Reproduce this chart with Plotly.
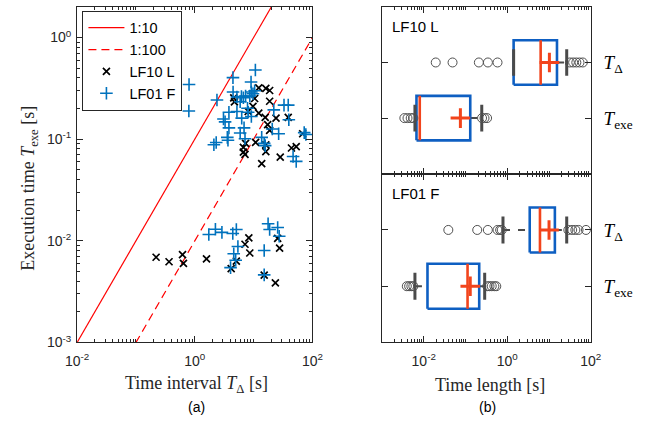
import plotly.graph_objects as go

W, H = 651, 428

# ---------------- data: left panel (scatter) ----------------
lf10_tdelta = [12.2, 16.1, 18.7, 4.59, 4.71, 10.4, 18.7, 8.07, 12.2, 15.7, 24.0, 38.7, 17.3, 18.7,
               68.1, 7.29, 6.69, 6.69, 7.13, 16.1, 16.1, 43.9, 52.9, 28.3, 13.7, 9.74, 10.8,
               0.22, 0.365, 0.618, 0.641, 1.58, 8.28, 7.13, 8.6, 25.6, 27.6, 23.4, 5.08, 4.15, 15.1]
lf10_texe = [0.32, 0.316, 0.301, 0.255, 0.233, 0.251, 0.236, 0.187, 0.18, 0.164, 0.161, 0.164, 0.139, 0.122,
             0.113, 0.0908, 0.083, 0.0744, 0.0707, 0.0878, 0.0755, 0.0818, 0.0844, 0.0666, 0.0574, 0.21, 0.0928,
             0.00689, 0.00622, 0.0073, 0.00599, 0.00664, 0.0107, 0.00925, 0.00759, 0.01057, 0.00848, 0.00385,
             0.0063, 0.00533, 0.00459]

lf01_tdelta = [0.798, 0.792, 2.38, 4.45, 10.7, 9.03, 4.47, 6.69, 7.29, 9.14, 9.74, 8.6, 5.9, 3.8, 5.2, 8.07,
               9.14, 3.07, 3.27, 3.8, 6.87, 5.9, 7.13, 3.57, 3.66, 2.31, 2.11, 13.7, 15.1, 15.7, 20.7, 22.0,
               32.8, 38.7, 39.6, 26.6, 72.3, 77.1, 46.8, 52.9, 7.87, 6.27, 5.2, 6.2, 10.4,
               1.73, 2.24, 2.89, 4.42, 5.08, 17.6, 18.7, 25.6, 27.2, 5.4, 4.59, 4.95, 4.05, 15.1, 15.1]
lf01_texe = [0.345, 0.189, 0.243, 0.403, 0.479, 0.365, 0.291, 0.255, 0.265, 0.291, 0.28, 0.266, 0.233, 0.184,
             0.187, 0.184, 0.167, 0.158, 0.148, 0.129, 0.129, 0.115, 0.101, 0.104, 0.0976, 0.0928, 0.0882,
             0.104, 0.0908, 0.0863, 0.126, 0.194, 0.216, 0.216, 0.155, 0.113, 0.116, 0.111, 0.0676, 0.0605,
             0.201, 0.161, 0.26, 0.262, 0.299,
             0.01154, 0.013, 0.0121, 0.0118, 0.0129, 0.0147, 0.0129, 0.0135, 0.0111, 0.00878, 0.00747,
             0.00644, 0.00545, 0.00803, 0.00462]

ratio_labels = ["1:10", "1:100"]
ratio_values = [10, 100]
line_x_ends = [0.01, 100]

# ---------------- data: right panel (box plots) ----------------
row_labels = ["<i>T</i><sub>exe</sub>", "<i>T</i><sub>Δ</sub>"]
panel_labels = ["LF10 L", "LF01 F"]
# [lower whisker, Q1, median, Q3, upper whisker]
lf10_texe_summary = [0.00616, 0.00671, 0.00804, 0.130, 0.245]
lf10_texe_mean = 0.0755
lf10_texe_outliers = [0.00344, 0.00409, 0.00488, 0.00564, 0.249, 0.285, 0.329]
lf10_tdelta_summary = [1.42, 1.42, 6.3, 15.5, 26.5]
lf10_tdelta_mean = 10.2
lf10_tdelta_outliers = [0.0194, 0.049, 0.209, 0.344, 0.585, 31.5, 37.8, 45.0, 53.7, 64.3]
lf01_texe_summary = [0.00616, 0.0123, 0.112, 0.213, 0.288]
lf01_texe_mean = 0.130
lf01_texe_outliers = [0.00394, 0.00448, 0.00506, 0.00564, 0.333, 0.376, 0.425, 0.491, 0.546]
lf01_tdelta_summary = [0.79, 3.45, 6.07, 13.8, 26.5]
lf01_tdelta_mean = 10.0
lf01_tdelta_outliers = [0.0388, 0.191, 0.343, 0.585, 0.675, 0.738, 29.0, 35.8, 42.7, 50.9, 76.7]

# ---------------- styles ----------------
AX = "#262626"
BLUE = "#0072BD"
BOX_BLUE = "#0E5FC2"
MED_RED = "#F2441C"
WHISK = "#4A4A4A"
SANS = "Liberation Sans, Arial, sans-serif"
SERIF = "Liberation Serif, Times New Roman, serif"
ratio_styles = [dict(color="#FF0000", width=1.2, dash="solid"),
                dict(color="#FF0000", width=1.2, dash="8px,5px")]

fig = go.Figure()

for lab, r, st in zip(ratio_labels, ratio_values, ratio_styles):
    fig.add_trace(go.Scatter(x=line_x_ends, y=[v / r for v in line_x_ends], mode="lines",
                             name=lab, line=st, xaxis="x", yaxis="y"))

fig.add_trace(go.Scatter(x=lf10_tdelta, y=lf10_texe, mode="markers", name="LF10 L",
                         marker=dict(symbol="x-thin", size=7, color="black",
                                     line=dict(width=1.7, color="black")),
                         xaxis="x", yaxis="y"))
fig.add_trace(go.Scatter(x=lf01_tdelta, y=lf01_texe, mode="markers", name="LF01 F",
                         marker=dict(symbol="cross-thin", size=9, color=BLUE,
                                     line=dict(width=1.6, color=BLUE)),
                         xaxis="x", yaxis="y"))

HB = 0.4   # box half height
HC = 0.24  # cap half height


def add_box(summary, mean, outliers, ypos, xa, ya):
    lw, q1, med, q3, uw = summary
    kw = dict(xaxis=xa, yaxis=ya, showlegend=False, hoverinfo="skip")
    for a, b in ((lw, q1), (q3, uw)):
        if a != b:
            fig.add_trace(go.Scatter(x=[a, b], y=[ypos, ypos], mode="lines",
                                     line=dict(color=WHISK, width=2, dash="7px,8px"), **kw))
    fig.add_trace(go.Scatter(x=[q1, q3, q3, q1, q1],
                             y=[ypos - HB, ypos - HB, ypos + HB, ypos + HB, ypos - HB],
                             mode="lines", line=dict(color=BOX_BLUE, width=2.6), **kw))
    for c in (lw, uw):
        fig.add_trace(go.Scatter(x=[c, c], y=[ypos - HC, ypos + HC], mode="lines",
                                 line=dict(color=WHISK, width=3), **kw))
    fig.add_trace(go.Scatter(x=[med, med], y=[ypos - HB, ypos + HB], mode="lines",
                             line=dict(color=MED_RED, width=2.6), **kw))
    fig.add_trace(go.Scatter(x=outliers, y=[ypos] * len(outliers), mode="markers",
                             marker=dict(symbol="circle-open", size=9, color="#505050",
                                         line=dict(width=1)), **kw))
    fig.add_trace(go.Scatter(x=[mean], y=[ypos], mode="markers",
                             marker=dict(symbol="cross-thin", size=14, color=MED_RED,
                                         line=dict(width=3, color=MED_RED)), **kw))


add_box(lf10_texe_summary, lf10_texe_mean, lf10_texe_outliers, 1, "x2", "y2")
add_box(lf10_tdelta_summary, lf10_tdelta_mean, lf10_tdelta_outliers, 2, "x2", "y2")
add_box(lf01_texe_summary, lf01_texe_mean, lf01_texe_outliers, 1, "x3", "y3")
add_box(lf01_tdelta_summary, lf01_tdelta_mean, lf01_tdelta_outliers, 2, "x3", "y3")


def minor_vals(lo, hi, extra_decades=()):
    out = [10.0 ** e for e in extra_decades]
    for k in range(lo, hi + 1):
        for m in range(2, 10):
            out.append(m * 10.0 ** k)
    return out


def log_ticks(exps):
    vals = [10.0 ** e for e in exps]
    text = [f"10<sup>{e}</sup>" for e in exps]
    return vals, text


common = dict(showline=True, linecolor=AX, linewidth=1, mirror="allticks", ticks="inside",
              ticklen=6, tickcolor=AX, tickwidth=1, showgrid=False, zeroline=False,
              tickfont=dict(family=SANS, size=14, color=AX))

xv, xt = log_ticks([-2, 0, 2])
yv, yt = log_ticks([-3, -2, -1, 0])

minor_common = dict(ticks="inside", ticklen=3, tickcolor=AX, tickwidth=1, tickmode="array")
serif_tick = dict(family=SERIF, size=19, color="black")

x1 = [67.5 / W, 311.5 / W]
xr = [383.5 / W, 600 / W]
fig.update_layout(
    width=W, height=H, margin=dict(l=0, r=0, t=0, b=0),
    paper_bgcolor="white", plot_bgcolor="white",
    xaxis=dict(type="log", domain=x1, range=[-2, 2], anchor="y", tickmode="array",
               tickvals=xv, ticktext=xt, ticklabelstandoff=6,
               minor=dict(tickvals=minor_vals(-2, 1, (-1, 1)), **minor_common), **common),
    yaxis=dict(type="log", domain=[79 / H, 421 / H], range=[-3, 0.301], anchor="x",
               tickmode="array", tickvals=yv, ticktext=yt, ticklabelstandoff=2,
               minor=dict(tickvals=[v for v in minor_vals(-3, 0) if v <= 2], **minor_common),
               **common),
    xaxis2=dict(type="log", domain=xr, range=[-3, 2], anchor="y2", tickmode="array",
                tickvals=xv, ticktext=xt, showticklabels=False,
                minor=dict(tickvals=minor_vals(-3, 1, (-3, -1, 1)), **minor_common), **common),
    yaxis2=dict(domain=[251 / H, 421 / H], range=[0, 3], anchor="x2", side="right",
                tickmode="array", tickvals=[1, 2], ticktext=row_labels, ticklabelstandoff=8,
                **{**common, "tickfont": serif_tick}),
    xaxis3=dict(type="log", domain=xr, range=[-3, 2], anchor="y3", tickmode="array",
                tickvals=xv, ticktext=xt, ticklabelstandoff=6,
                minor=dict(tickvals=minor_vals(-3, 1, (-3, -1, 1)), **minor_common), **common),
    yaxis3=dict(domain=[79 / H, 251 / H], range=[0, 3], anchor="x3", side="right",
                tickmode="array", tickvals=[1, 2], ticktext=row_labels, ticklabelstandoff=8,
                **{**common, "tickfont": serif_tick}),
    legend=dict(x=73 / W, y=1 - 11 / H, xanchor="left", yanchor="top",
                bgcolor="white", bordercolor=AX, borderwidth=1,
                font=dict(family=SANS, size=14.5, color="black"), itemwidth=36,
                tracegroupgap=0),
    showlegend=True,
)

ann = [
    dict(text="Time interval <i>T</i><sub>Δ</sub> [s]", x=191 / W, y=1 - 392 / H,
         font=dict(family=SERIF, size=18, color=AX)),
    dict(text="Execution time <i>T</i><sub>exe</sub> [s]", x=18 / W, y=1 - 192 / H, textangle=-90,
         font=dict(family=SERIF, size=18, color=AX)),
    dict(text="Time length [s]", x=496 / W, y=1 - 392 / H,
         font=dict(family=SERIF, size=18, color=AX)),
    dict(text="(a)", x=191 / W, y=1 - 415 / H, font=dict(family=SANS, size=14, color="black")),
    dict(text="(b)", x=493 / W, y=1 - 415 / H, font=dict(family=SANS, size=14, color="black")),
    dict(text=panel_labels[0], x=392 / W, y=1 - 27 / H, xanchor="left",
         font=dict(family=SANS, size=15, color="black")),
    dict(text=panel_labels[1], x=392 / W, y=1 - 197 / H, xanchor="left",
         font=dict(family=SANS, size=15, color="black")),
]
for a in ann:
    a.setdefault("xanchor", "center")
    fig.add_annotation(xref="paper", yref="paper", showarrow=False, yanchor="middle", **a)

fig.write_html("out.html")
